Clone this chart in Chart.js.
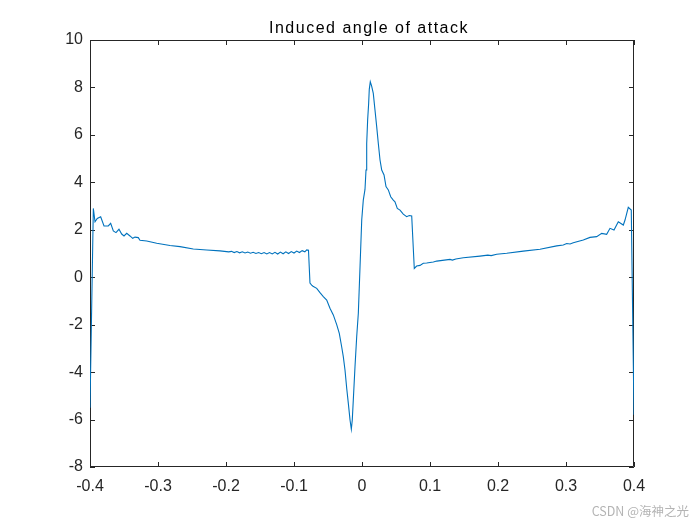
<!DOCTYPE html>
<html lang="en">

<head>
    <meta charset="UTF-8">
    <title>Induced angle of attack</title>
    <script src="https://cdn.jsdelivr.net/npm/chart.js"></script>
    <style>
        body { margin: 0; background: #fff; }
    </style>
</head>

<body>
    <canvas id="canvas" width="700" height="525"></canvas>
    <script>
        // spanwise position (x) and induced angle (y)
        const xs = [
            -0.4, -0.3951, -0.3926, -0.3893, -0.3843, -0.3794, -0.3731, -0.3696, -0.3657, -0.3618,
            -0.3574, -0.3534, -0.35, -0.346, -0.3412, -0.3372, -0.3338, -0.329, -0.3265, -0.3166,
            -0.3019, -0.2824, -0.2676, -0.2481, -0.2284, -0.2088, -0.196,
            -0.192, -0.188, -0.184, -0.18, -0.176, -0.172, -0.168, -0.164, -0.16, -0.156,
            -0.152, -0.148, -0.144, -0.14, -0.136, -0.132, -0.128, -0.124, -0.12, -0.116,
            -0.112, -0.108, -0.104, -0.1, -0.096, -0.092, -0.088, -0.084, -0.0813, -0.0787,
            -0.0765, -0.074, -0.0721, -0.0666, -0.0618, -0.0569, -0.0519, -0.0471, -0.0422, -0.0372,
            -0.0334, -0.0299, -0.0275, -0.025, -0.0225, -0.0201, -0.0176, -0.0157, -0.0143, -0.0128,
            -0.0103, -0.0078, -0.0054, -0.0029, -0.0004, 0.0019, 0.0044, 0.0059, 0.0069, 0.0083,
            0.0098, 0.0107, 0.0122, 0.0142, 0.0166, 0.0191, 0.0216, 0.024, 0.0265, 0.029,
            0.0324, 0.0353, 0.0387, 0.0422, 0.046, 0.0485, 0.0519, 0.0559, 0.0607, 0.0657,
            0.0695, 0.0731, 0.0769, 0.0804, 0.0853, 0.0901, 0.0951, 0.1049, 0.1099, 0.1294,
            0.133, 0.138, 0.149, 0.1735, 0.185, 0.19, 0.1981, 0.2128, 0.2372, 0.2618,
            0.2863, 0.296, 0.301, 0.306, 0.3107, 0.3254, 0.3353, 0.3451, 0.3525, 0.3598,
            0.3647, 0.3706, 0.3769, 0.3843, 0.3868, 0.3916, 0.396, 0.4
        ];
        const alpha = [
            -5.5, 2.9, 2.34, 2.48, 2.55, 2.16, 2.16, 2.27, 1.95, 1.88,
            2.02, 1.82, 1.74, 1.85, 1.74, 1.64, 1.69, 1.67, 1.56, 1.53,
            1.43, 1.34, 1.29, 1.19, 1.15, 1.11, 1.07,
            1.09, 1.04, 1.08, 1.03, 1.07, 1.02, 1.06, 1.01, 1.05, 1.0,
            1.04, 0.99, 1.04, 0.98, 1.04, 0.98, 1.05, 0.98, 1.06, 0.99,
            1.07, 1.0, 1.08, 1.02, 1.1, 1.04, 1.12, 1.07, 1.15, 1.14,
            -0.25, -0.33, -0.38, -0.47, -0.65, -0.82, -0.96, -1.31, -1.59, -2.0,
            -2.37, -2.93, -3.35, -3.91, -4.68, -5.32, -6.02, -6.41, -6.02, -5.18,
            -3.77, -2.51, -1.52, 0.44, 2.41, 3.25, 3.7, 4.52, 5.64, 6.63,
            7.33, 7.92, 8.24, 8.06, 7.75, 7.05, 6.35, 5.64, 4.94, 4.52,
            4.31, 3.82, 3.68, 3.39, 3.25, 3.18, 2.9, 2.83, 2.66, 2.55,
            2.6, 2.58, 0.37, 0.47, 0.5, 0.59, 0.6, 0.64, 0.68, 0.75,
            0.72, 0.77, 0.82, 0.89, 0.93, 0.91, 0.97, 1.01, 1.1, 1.18,
            1.32, 1.36, 1.42, 1.4, 1.45, 1.57, 1.68, 1.71, 1.85, 1.81,
            2.06, 1.99, 2.34, 2.2, 2.41, 2.95, 2.83, -5.8
        ];
        const xTicks = [-0.4, -0.3, -0.2, -0.1, 0, 0.1, 0.2, 0.3, 0.4];
        const yTicks = [-8, -6, -4, -2, 0, 2, 4, 6, 8, 10];

        const axisColor = '#262626';
        const font = { family: "'Liberation Sans', Arial, sans-serif", size: 16 };

        // matlab style box: frame on all four sides, ticks pointing inward.
        // drawn before the line so the curve stays visible along the edges
        const boxPlugin = {
            id: 'box',
            beforeDatasetsDraw(chart) {
                const c = chart.ctx, a = chart.chartArea;
                const sx = chart.scales.x, sy = chart.scales.y;
                const len = 5;
                c.save();
                c.strokeStyle = axisColor;
                c.lineWidth = 1;
                c.beginPath();
                c.rect(a.left + 0.5, a.top + 0.5, a.right - a.left - 1, a.bottom - a.top - 1);
                xTicks.forEach(v => {
                    const px = Math.round(sx.getPixelForValue(v)) + 0.5;
                    c.moveTo(px, a.bottom); c.lineTo(px, a.bottom - len);
                    c.moveTo(px, a.top); c.lineTo(px, a.top + len);
                });
                yTicks.forEach(v => {
                    const py = Math.round(sy.getPixelForValue(v)) + 0.5;
                    c.moveTo(a.left, py); c.lineTo(a.left + len, py);
                    c.moveTo(a.right, py); c.lineTo(a.right - len, py);
                });
                c.stroke();
                c.restore();
            },
            afterDraw(chart) {
                const c = chart.ctx;
                c.save();
                // title
                c.fillStyle = '#000';
                c.font = "16px 'Liberation Sans', Arial, sans-serif";
                c.letterSpacing = '1.5px';
                c.textAlign = 'center';
                c.textBaseline = 'alphabetic';
                c.fillText('Induced angle of attack', 369, 33);

                // watermark
                c.letterSpacing = '0px';
                c.fillStyle = '#b4b4b4';
                c.font = "12.5px 'Noto Sans CJK SC', 'Liberation Sans', sans-serif";
                c.textAlign = 'right';
                c.fillText('CSDN @海神之光', 689, 516);
                c.restore();
            }
        };

        const config = {
            type: 'line',
            data: {
                datasets: [{
                    data: xs.map((x, i) => ({ x: x, y: alpha[i] })),
                    borderColor: '#0072BD',
                    borderWidth: 1.1,
                    pointRadius: 0,
                    tension: 0,
                    fill: false
                }]
            },
            options: {
                responsive: false,
                animation: false,
                layout: { padding: { top: 40, right: 66, left: 0, bottom: 0 } },
                plugins: {
                    legend: { display: false },
                    tooltip: { enabled: false }
                },
                scales: {
                    x: {
                        type: 'linear',
                        min: -0.4,
                        max: 0.4,
                        afterFit: s => { s.height = 58; },
                        afterBuildTicks: s => { s.ticks = xTicks.map(v => ({ value: v })); },
                        grid: { display: false, drawTicks: false },
                        border: { display: false },
                        ticks: {
                            color: axisColor,
                            font: font,
                            padding: 10,
                            maxRotation: 0,
                            callback: v => String(Math.round(v * 10) / 10)
                        }
                    },
                    y: {
                        min: -8,
                        max: 10,
                        afterFit: s => { s.width = 90; },
                        afterBuildTicks: s => { s.ticks = yTicks.map(v => ({ value: v })); },
                        grid: { display: false, drawTicks: false },
                        border: { display: false },
                        ticks: {
                            color: axisColor,
                            font: font,
                            padding: 7,
                            callback: v => String(v)
                        }
                    }
                }
            },
            plugins: [boxPlugin]
        };

        new Chart(document.getElementById('canvas'), config);
    </script>
</body>

</html>
